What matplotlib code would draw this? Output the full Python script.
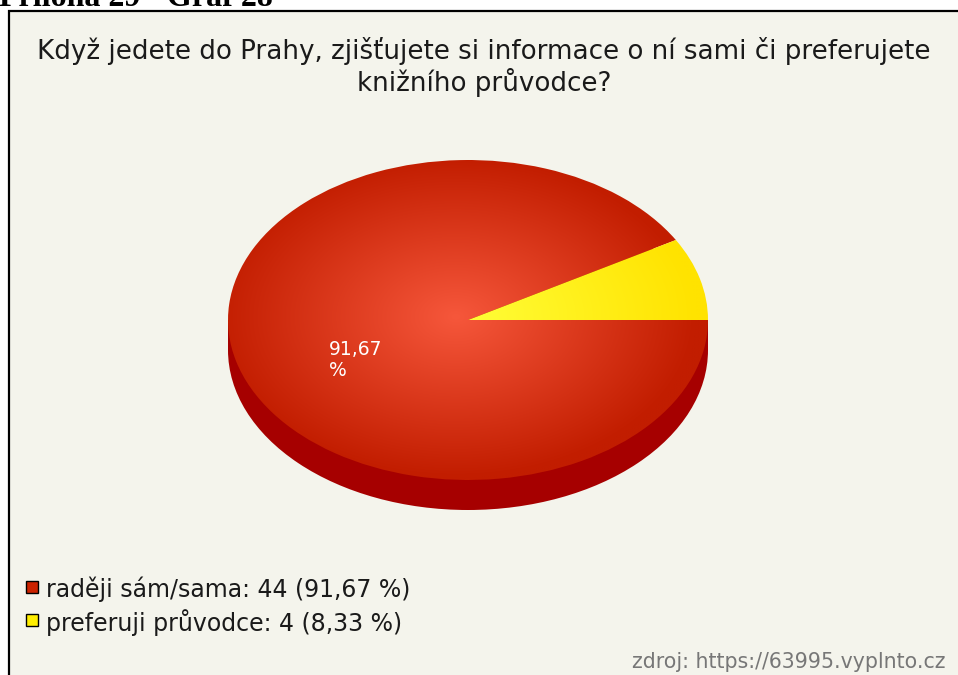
import numpy as np
import matplotlib
matplotlib.use("Agg")
import matplotlib.pyplot as plt
from matplotlib.patches import Rectangle, Ellipse
from matplotlib.colors import to_rgb

plt.rcParams['font.family'] = ['DejaVu Sans']

# data
labels = ["raději sám/sama", "preferuji průvodce"]
values = [44, 4]
legend_colors = ["#cc2200", "#ffee00"]
title_lines = ["Když jedete do Prahy, zjišťujete si informace o ní sami či preferujete",
               "knižního průvodce?"]
source = "zdroj: https://63995.vyplnto.cz"
caption = "Příloha 29 - Graf 28"

W, H = 958, 675
fig = plt.figure(figsize=(W / 100, H / 100), dpi=100)
fig.patch.set_facecolor("white")

# background layer in pixel coords
bg = fig.add_axes([0, 0, 1, 1])
bg.set_xlim(0, W)
bg.set_ylim(H, 0)
bg.axis("off")
bg.add_patch(Rectangle((9, 11), 960, 680, facecolor="#f4f4ec", edgecolor="black", lw=1.6))
bg.text(-1, 6, caption, family="Liberation Serif", weight="bold", fontsize=23, va="baseline", ha="left")
for i, line in enumerate(title_lines):
    bg.text(484, 59 + 32 * i, line, fontsize=18.8, ha="center", va="baseline", color="#1a1a1a")
bg.text(946, 668, source, fontsize=14.8, ha="right", va="baseline", color="#777777")

# pie: ellipse 480 x 320 px, centre (468, 320)
cx, cy, rx, ry = 468, 320, 240, 160
pax = fig.add_axes([(cx - rx) / W, (H - cy - ry) / H, 2 * rx / W, 2 * ry / H])
pax.axis("off")

depth = 30 / ry
side = "#a60000"
pax.add_patch(Ellipse((0, -depth), 2, 2, facecolor=side, edgecolor="none", zorder=0, clip_on=False))
pax.add_patch(Rectangle((-1, -depth), 2, depth, facecolor=side, edgecolor="none", zorder=0, clip_on=False))

def pct_fmt(p):
    return (f"{p:.2f}".replace(".", ",") + "\n%") if p > 50 else ""

wedges, texts, autotexts = pax.pie(values, startangle=30, counterclock=True,
                                   autopct=pct_fmt, pctdistance=0.6,
                                   wedgeprops=dict(edgecolor="none"),
                                   textprops=dict(color="white", fontsize=13.5))
pax.set_aspect("auto")

# radial shading inside each wedge
n = 400
xx, yy = np.meshgrid(np.linspace(-1, 1, n), np.linspace(1, -1, n))
rr = np.clip(np.hypot(xx + 0.05, yy - 0.02), 0, 1)[..., None]
shades = [("#f6573b", "#c21d00"), ("#ffff3a", "#ffe300")]
for w, (c0, c1) in zip(wedges, shades):
    img = (1 - rr) * np.array(to_rgb(c0)) + rr * np.array(to_rgb(c1))
    im = pax.imshow(img, extent=(-1, 1, -1, 1), aspect="auto", zorder=1, interpolation="bilinear")
    im.set_clip_path(w)
    w.set_facecolor("none")

for t in autotexts:
    x, y = t.get_position()
    t.set_position((x, y + 0.03))
    t.set_ha("left")
    t.set_va("top")
    t.set_multialignment("left")
    t.set_linespacing(1.1)
    t.set_zorder(3)

pax.set_xlim(-1, 1)
pax.set_ylim(-1, 1)

# legend
tot = sum(values)
leg_labels = [f"{l}: {v} ({v / tot * 100:.2f} %)".replace(".", ",") for l, v in zip(labels, values)]
for i, (lab, col) in enumerate(zip(leg_labels, legend_colors)):
    yc = 587 + 33 * i
    bg.add_patch(Rectangle((26, yc - 6), 12, 12, facecolor=col, edgecolor="black", lw=1))
    bg.text(46, yc, lab, fontsize=17, ha="left", va="center_baseline", color="#1a1a1a")

fig.savefig("out.png", dpi=100, facecolor="white")
